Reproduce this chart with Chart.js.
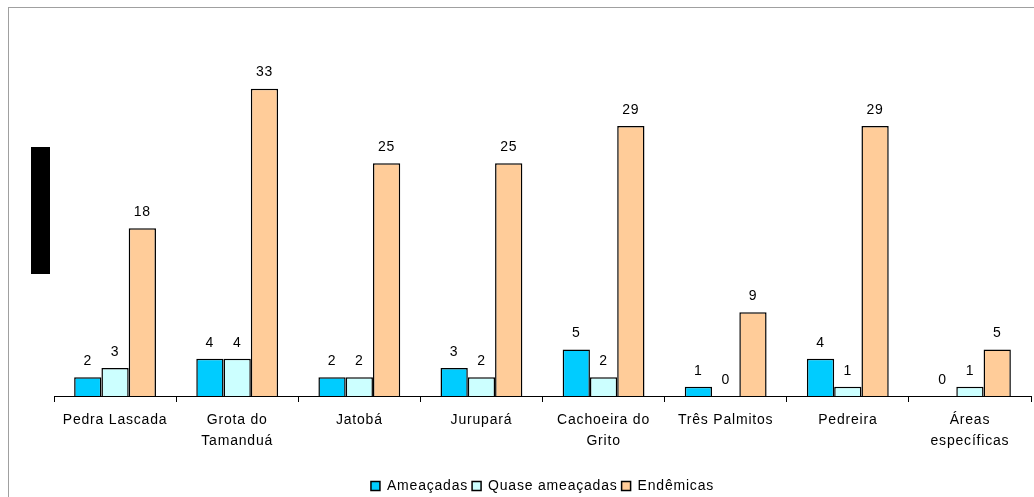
<!DOCTYPE html>
<html>
<head>
<meta charset="utf-8">
<script src="https://cdn.jsdelivr.net/npm/chart.js@4.4.1/dist/chart.umd.min.js"></script>
<style>
  html, body { margin: 0; padding: 0; background: #fff; overflow: hidden; }
  #frame { position: absolute; left: 8px; top: 7px; width: 1100px; height: 560px; border: 1px solid #a0a0a0; }
  #wrap { position: absolute; left: 0; top: 0; width: 1034px; height: 497px; }
</style>
</head>
<body>
<div id="frame"></div>
<div id="wrap"><canvas id="chart"></canvas></div>
<script>
// Species counts per area
const areas = [
    'Pedra Lascada', ['Grota do', 'Tamanduá'], 'Jatobá', 'Jurupará',
    ['Cachoeira do', 'Grito'], 'Três Palmitos', 'Pedreira', ['Áreas', 'específicas']
];
const ameacadas = [2, 4, 2, 3, 5, 1, 4, 0];
const quaseAmeacadas = [3, 4, 2, 2, 2, 0, 1, 1];
const endemicas = [18, 33, 25, 25, 29, 9, 29, 5];

const FONT = 'Liberation Sans, Arial, sans-serif';

// slightly loose text, like the office-style rendering
const spacing = {
    id: 'spacing',
    beforeUpdate(chart) { chart.ctx.letterSpacing = '0.8px'; },
    beforeDraw(chart) { chart.ctx.letterSpacing = '0.8px'; }
};

// value labels above each bar
const barLabels = {
    id: 'barLabels',
    afterDatasetsDraw(chart) {
        const ctx = chart.ctx;
        ctx.save();
        ctx.font = '14px ' + FONT;
        ctx.fillStyle = '#000';
        ctx.textAlign = 'center';
        ctx.textBaseline = 'middle';
        chart.data.datasets.forEach((ds, i) => {
            chart.getDatasetMeta(i).data.forEach((bar, j) => {
                ctx.fillText(ds.data[j], bar.x, bar.y - 16);
            });
        });
        ctx.restore();
    }
};

// hidden axis title block on the left
const titleBlock = {
    id: 'titleBlock',
    afterDraw(chart) {
        const ctx = chart.ctx;
        ctx.save();
        ctx.fillStyle = '#000';
        ctx.fillRect(31, 147, 19, 127);
        ctx.restore();
    }
};

new Chart(document.getElementById('chart'), {
    type: 'bar',
    data: {
        labels: areas,
        datasets: [
            { label: 'Ameaçadas', data: ameacadas, backgroundColor: '#00CCFF' },
            { label: 'Quase ameaçadas', data: quaseAmeacadas, backgroundColor: '#CCFFFF' },
            { label: 'Endêmicas', data: endemicas, backgroundColor: '#FFCC99' }
        ].map(d => Object.assign(d, {
            borderColor: '#000',
            borderWidth: 1.5,
            borderSkipped: 'bottom',
            categoryPercentage: 0.67,
            barPercentage: 1
        }))
    },
    options: {
        responsive: true,
        maintainAspectRatio: false,
        animation: false,
        layout: { padding: { left: 54, right: 3, top: 70, bottom: -6 } },
        plugins: {
            legend: {
                position: 'bottom',
                labels: {
                    font: { family: FONT, size: 14 },
                    color: '#000',
                    boxWidth: 9,
                    boxHeight: 9,
                    padding: 4
                }
            },
            tooltip: { enabled: false }
        },
        scales: {
            x: {
                grid: {
                    display: true,
                    drawOnChartArea: false,
                    offset: true,
                    color: '#000',
                    tickLength: 6
                },
                border: { color: '#000', width: 1 },
                ticks: {
                    color: '#000',
                    font: { family: FONT, size: 14, lineHeight: 1.5 },
                    maxRotation: 0,
                    autoSkip: false,
                    padding: 8
                },
                afterFit(scale) { scale.height = 79; }
            },
            y: {
                display: false,
                min: 0,
                max: 35
            }
        }
    },
    plugins: [spacing, barLabels, titleBlock]
});
</script>
</body>
</html>
